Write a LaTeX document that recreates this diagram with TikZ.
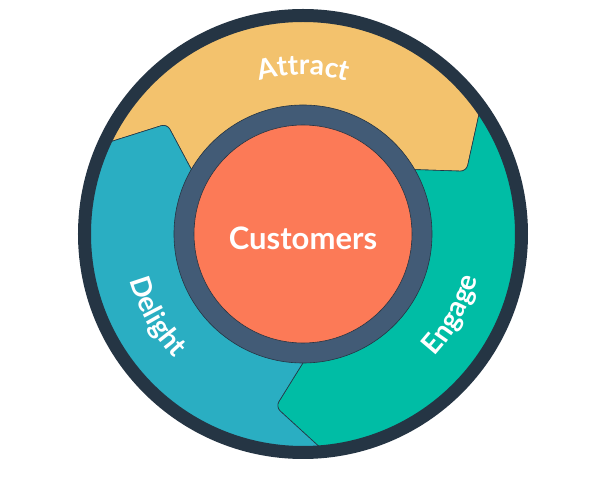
\documentclass[tikz,border=0pt]{standalone}
\usepackage{fontspec}
\setmainfont{Lato}
\usetikzlibrary{decorations.text}

\definecolor{marigold}{HTML}{F3C26D}
\definecolor{oz}{HTML}{00BDA5}
\definecolor{calypso}{HTML}{2AAEC2}
\definecolor{sorbet}{HTML}{FC7A57}
\definecolor{slate}{HTML}{425B76}
\definecolor{ringdark}{HTML}{253544}

\newcommand{\stagefont}{\color{white}\bfseries\fontsize{28}{30}\selectfont}

\tikzset{
  segment/.style={draw=ringdark, line width=0.6pt, rounded corners=6pt},
  stagetext/.style={decorate, decoration={text along path, text align=center, text={|\stagefont|#1}}}
}

\begin{document}
\begin{tikzpicture} [x=1pt,y=1pt]

\useasboundingbox (-303,-244) rectangle (297,234);

% the three stages, each ending in a point
\draw [segment, fill=marigold] (155.5:218) arc[start angle=155.5, end angle=35.5, radius=218]
  -- (21:175) -- (32:122) arc[start angle=32, end angle=152, radius=122] -- (141:175) -- cycle;
\draw [segment, fill=oz] (35.5:218) arc[start angle=35.5, end angle=-84.5, radius=218]
  -- (-99:175) -- (-88:122) arc[start angle=-88, end angle=32, radius=122] -- (21:175) -- cycle;
\draw [segment, fill=calypso] (275.5:218) arc[start angle=275.5, end angle=155.5, radius=218]
  -- (141:175) -- (152:122) arc[start angle=152, end angle=272, radius=122] -- (261:175) -- cycle;

% rings
\draw [ringdark, line width=13pt] (0,0) circle (218.5);
\draw [fill=slate, draw=ringdark, line width=0.6pt] (0,0) circle (129);
\draw [fill=sorbet, draw=ringdark, line width=0.6pt] (0,0) circle (109);

\node [text=white, font=\bfseries\fontsize{31}{33}\selectfont, text depth=0pt] (customers) at (0,-4) {Customers};

% stage labels
\path [stagetext=Attract] (130:159) arc[start angle=130, end angle=50, radius=159];
\path [stagetext=Delight] (180:179) arc[start angle=180, end angle=239, radius=179];
\path [stagetext=Engage] (-58:180) arc[start angle=-58, end angle=1, radius=180];

\end{tikzpicture}
\end{document}
